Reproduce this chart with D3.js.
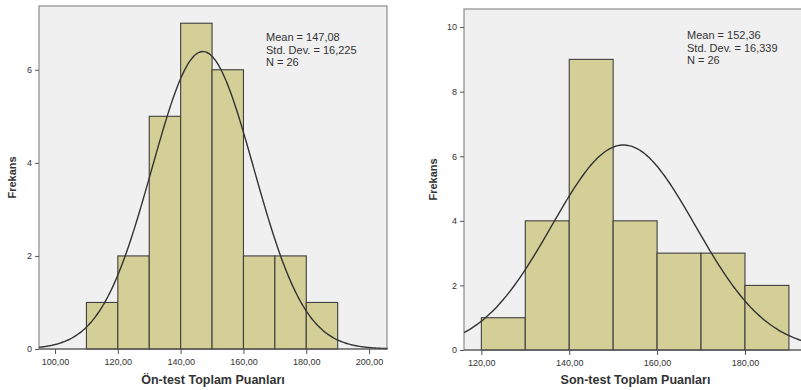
<!DOCTYPE html>
<html>
<head>
<meta charset="utf-8">
<script src="https://cdn.jsdelivr.net/npm/d3@7"></script>
<style>
  body { margin: 0; background: #fff; }
  svg { display: block; font-family: "Liberation Sans", Arial, sans-serif; }
  .tick text { fill: #333; font-size: 9px; }
  .tick line, .domain { stroke: #555; }
</style>
</head>
<body>
<svg id="chart" width="801" height="390"></svg>
<script>
  // bin lower edges (width 10) and counts
  const preBins = [110, 120, 130, 140, 150, 160, 170, 180];
  const preCounts = [1, 2, 5, 7, 6, 2, 2, 1];
  const postBins = [120, 130, 140, 150, 160, 170, 180];
  const postCounts = [1, 4, 9, 4, 3, 3, 2];
  const preStats = { mean: 147.08, sd: 16.225, n: 26, label: ["Mean = 147,08", "Std. Dev. = 16,225", "N = 26"] };
  const postStats = { mean: 152.36, sd: 16.339, n: 26, label: ["Mean = 152,36", "Std. Dev. = 16,339", "N = 26"] };
  const preXTicks = [100, 120, 140, 160, 180, 200];
  const postXTicks = [120, 140, 160, 180];
  const preYTicks = [0, 2, 4, 6];
  const postYTicks = [0, 2, 4, 6, 8, 10];

  const svg = d3.select("#chart");
  const fmt = (d) => d3.format(".2f")(d).replace(".", ",");

  function histogram(opts) {
    const { box, xDomain, yMax, bins, counts, stats, xTicks, yTicks, xLabel, statsX, yLabelX } = opts;
    const x = d3.scaleLinear().domain(xDomain).range([box.left, box.right]);
    const y = d3.scaleLinear().domain([0, yMax]).range([box.bottom, box.top]);
    const g = svg.append("g");

    g.append("rect")
      .attr("x", box.left).attr("y", box.top)
      .attr("width", box.right - box.left).attr("height", box.bottom - box.top)
      .attr("fill", "#f0f0f0").attr("stroke", "#8c8c8c").attr("stroke-width", 1.2);

    g.selectAll("rect.bar")
      .data(bins)
      .join("rect")
      .attr("class", "bar")
      .attr("x", (d) => x(d))
      .attr("width", (d) => x(d + 10) - x(d))
      .attr("y", (d, i) => y(counts[i]))
      .attr("height", (d, i) => y(0) - y(counts[i]))
      .attr("fill", "#d3cf97")
      .attr("stroke", "#3f3f3f")
      .attr("stroke-width", 1.1);

    const peak = stats.n * 10 / (stats.sd * Math.sqrt(2 * Math.PI));
    const pts = d3.range(xDomain[0], xDomain[1] + 0.25, 0.5);
    const line = d3.line()
      .x((d) => x(d))
      .y((d) => y(peak * Math.exp(-0.5 * ((d - stats.mean) / stats.sd) ** 2)))
      .curve(d3.curveBasis);
    g.append("path")
      .datum(pts)
      .attr("d", line)
      .attr("fill", "none")
      .attr("stroke", "#333")
      .attr("stroke-width", 1.4);

    g.append("g")
      .attr("transform", `translate(0,${box.bottom})`)
      .call(d3.axisBottom(x).tickValues(xTicks).tickFormat(fmt).tickSize(5).tickSizeOuter(0))
      .call((a) => a.select(".domain").remove())
      .call((a) => a.selectAll("text").attr("dy", "0.9em"));

    g.append("g")
      .attr("transform", `translate(${box.left},0)`)
      .call(d3.axisLeft(y).tickValues(yTicks).tickFormat(d3.format("d")).tickSize(4).tickSizeOuter(0))
      .call((a) => a.select(".domain").remove());

    g.append("line")
      .attr("x1", box.left).attr("x2", box.right)
      .attr("y1", box.bottom).attr("y2", box.bottom)
      .attr("stroke", "#555");

    g.append("text")
      .attr("x", (box.left + Math.min(box.right, 801)) / 2 + opts.xLabelShift)
      .attr("y", 384)
      .attr("text-anchor", "middle")
      .attr("font-size", 12.5)
      .attr("font-weight", "bold")
      .attr("fill", "#333")
      .text(xLabel);

    g.append("text")
      .attr("transform", `translate(${yLabelX},${(box.top + box.bottom) / 2}) rotate(-90)`)
      .attr("text-anchor", "middle")
      .attr("font-size", 11)
      .attr("font-weight", "bold")
      .attr("fill", "#333")
      .text("Frekans");

    g.append("g")
      .selectAll("text")
      .data(stats.label)
      .join("text")
      .attr("x", statsX)
      .attr("y", (d, i) => box.top + 35 + i * 12.5 - (opts.statsShift || 0))
      .attr("font-size", 11)
      .attr("fill", "#333")
      .text((d) => d);
  }

  histogram({
    box: { left: 39, right: 387, top: 6, bottom: 349 },
    xDomain: [94.9, 205.7], yMax: 7.37,
    bins: preBins, counts: preCounts, stats: preStats,
    xTicks: preXTicks, yTicks: preYTicks,
    xLabel: "Ön-test Toplam Puanları", xLabelShift: 0,
    statsX: 266, yLabelX: 16
  });

  histogram({
    box: { left: 464, right: 810, top: 9, bottom: 350 },
    xDomain: [116.05, 194.8], yMax: 10.56,
    bins: postBins, counts: postCounts, stats: postStats,
    xTicks: postXTicks, yTicks: postYTicks,
    xLabel: "Son-test Toplam Puanları", xLabelShift: 3,
    statsX: 687, yLabelX: 437, statsShift: 5
  });
</script>
</body>
</html>
